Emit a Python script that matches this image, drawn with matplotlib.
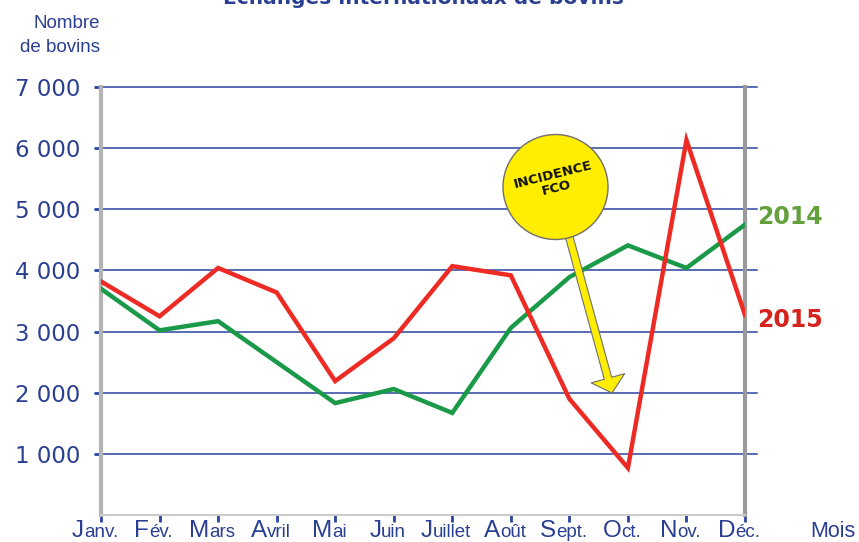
import matplotlib.pyplot as plt
from matplotlib.patches import Ellipse, FancyArrowPatch, ArrowStyle

months_big = ["J", "F", "M", "A", "M", "J", "J", "A", "S", "O", "N", "D"]
months_small = ["anv.", "év.", "ars", "vril", "ai", "uin", "uillet", "oût", "ept.", "ct.", "ov.", "éc."]
y2014 = [3700, 3020, 3170, 2500, 1830, 2060, 1670, 3060, 3890, 4410, 4040, 4750]
y2015 = [3820, 3250, 4040, 3640, 2190, 2890, 4070, 3920, 1900, 770, 6130, 3270]
yticks = [1000, 2000, 3000, 4000, 5000, 6000, 7000]
ytick_labels = ["1 000", "2 000", "3 000", "4 000", "5 000", "6 000", "7 000"]

BLUE = "#2a3f91"
GRID = "#2b44a0"
GREEN = "#1a9a48"
RED = "#ee2a24"
LAB = "Liberation Sans"

W, H = 859, 542
fig = plt.figure(figsize=(W / 100, H / 100), dpi=100)
ax = fig.add_axes([101 / W, 1 - 515 / H, 644 / W, 428 / H])

x = list(range(len(y2014)))
ax.set_xlim(0, 11)
ax.set_ylim(0, 7000)

for v in yticks:
    ax.axhline(v, xmin=0, xmax=656 / 644, color=GRID, lw=1.1, clip_on=False, zorder=1)

ax.plot(x, y2014, color=GREEN, lw=3.2, solid_joinstyle="miter", zorder=3)
ax.plot(x, y2015, color=RED, lw=3.2, solid_joinstyle="miter", zorder=3)

ax.spines["top"].set_visible(False)
ax.spines["left"].set_color("#b3b3b3")
ax.spines["left"].set_linewidth(3)
ax.spines["right"].set_color("#9a9a9a")
ax.spines["right"].set_linewidth(3)
ax.spines["right"].set_bounds(0, 7000)
ax.spines["bottom"].set_color("#cccccc")
ax.spines["bottom"].set_linewidth(1.5)

ax.set_yticks(yticks)
ax.set_yticklabels(ytick_labels, fontsize=16.5, color=BLUE)
ax.tick_params(axis="y", colors=GRID, labelcolor=BLUE, length=5, width=2, pad=10)
ax.set_xticks(x)
ax.set_xticklabels([])
ax.tick_params(axis="x", colors=GRID, length=5, width=2)

# month labels: big first letter + smaller rest
fig.canvas.draw()
r = fig.canvas.get_renderer()
for i, (b, s) in enumerate(zip(months_big, months_small)):
    tb = fig.text(0, 0, b, fontsize=17.5, color=BLUE, family=LAB)
    ts = fig.text(0, 0, s, fontsize=13.5, color=BLUE, family=LAB)
    wb = tb.get_window_extent(r).width
    ws = ts.get_window_extent(r).width
    px = ax.transData.transform((i, 0))[0] - 6
    left = px - (wb + ws) / 2
    tb.set_position((left / W, 5 / H))
    ts.set_position(((left + wb) / W, 5 / H))

fig.text(855 / W, 5 / H, "Mois", fontsize=15.5, color=BLUE, family=LAB, ha="right")
fig.text(100 / W, 1 - 28 / H, "Nombre", fontsize=13.5, color=BLUE, family=LAB, ha="right")
fig.text(100 / W, 1 - 52 / H, "de bovins", fontsize=13.5, color=BLUE, family=LAB, ha="right")
# title is cut at the top edge, as in the source image
fig.text(423 / W, 1 - 4 / H, "Echanges internationaux de bovins", fontsize=14.5,
         fontweight="bold", color=BLUE, ha="center", va="baseline")

fig.text(790 / W, 1 - 224 / H, "2014", fontsize=17, fontweight="bold", color="#64a03c", ha="center")
fig.text(790 / W, 1 - 327 / H, "2015", fontsize=17, fontweight="bold", color="#d6231e", ha="center")

# FCO callout
cx, cy = (555.5 - 101) / 644 * 11, (515 - 187) / 428 * 7000
tip = ((612 - 101) / 644 * 11, (515 - 393) / 428 * 7000)
start = ((566 - 101) / 644 * 11, (515 - 225) / 428 * 7000)
arrow = FancyArrowPatch(start, tip,
                        arrowstyle=ArrowStyle.Simple(head_length=11, head_width=25, tail_width=5.5),
                        mutation_scale=1, shrinkA=0, shrinkB=0,
                        facecolor="#ffee00", edgecolor="#6f6f6f", lw=0.8, zorder=5)
ax.add_patch(arrow)
circle = Ellipse((cx, cy), width=105 / 644 * 11, height=105 / 428 * 7000,
                 facecolor="#ffee00", edgecolor="#6f6f6f", lw=1, zorder=6, clip_on=False)
ax.add_patch(circle)
ax.text(cx - 0.02, cy + 90, "INCIDENCE\nFCO", fontsize=9.5, fontweight="bold", color="#111111",
        ha="center", va="center", rotation=14, rotation_mode="anchor", linespacing=1.1, zorder=7)

fig.savefig("out.png", dpi=100)
